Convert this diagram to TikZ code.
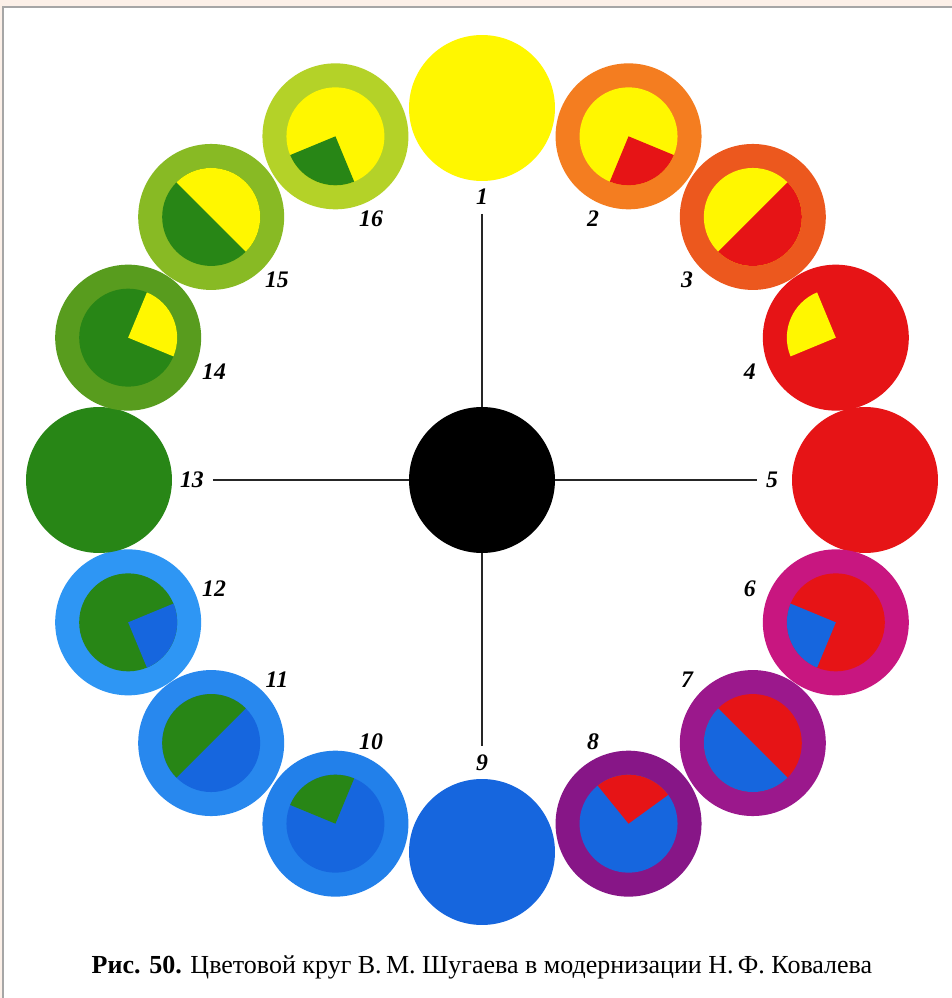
\documentclass[tikz,border=0pt]{standalone}
\usepackage{fontspec}
\setmainfont{Liberation Serif}
\usepackage{tikz}
\usetikzlibrary{positioning}
\definecolor{ylw}{RGB}{255,247,0}
\definecolor{org}{RGB}{244,125,32}
\definecolor{redorg}{RGB}{236,88,30}
\definecolor{rd}{RGB}{230,20,22}
\definecolor{mag}{RGB}{200,22,128}
\definecolor{prpA}{RGB}{155,24,140}
\definecolor{prpB}{RGB}{135,22,135}
\definecolor{blu}{RGB}{22,102,222}
\definecolor{lbluA}{RGB}{34,128,234}
\definecolor{lbluB}{RGB}{40,136,238}
\definecolor{lbluC}{RGB}{46,150,244}
\definecolor{grn}{RGB}{40,134,22}
\definecolor{grnA}{RGB}{88,156,30}
\definecolor{grnB}{RGB}{136,186,36}
\definecolor{grnC}{RGB}{180,210,40}
\definecolor{peach}{RGB}{252,240,232}
\tikzset{
  disc/.style={circle, inner sep=0pt, minimum size=2.92cm},
  core/.style={circle, inner sep=0pt, minimum size=1.96cm},
  num/.style={font=\fontsize{13.5}{15}\selectfont\bfseries\itshape, inner sep=5pt},
  axis/.style={line width=0.8pt, color=black!85}
}
\begin{document}
\begin{tikzpicture}[x=0.02cm, y=0.02cm]
\useasboundingbox (-482,-518) rectangle (470,480);
\fill[peach] (-482,-518) rectangle (470,480);
\fill[white] (-479,-518) rectangle (470,473);
\draw[gray!70, line width=0.6pt] (-479,-518) -- (-479,473) -- (470,473);

% outer discs
\node[disc, fill=ylw] (c1) at (90:383 and 372) {};
\node[disc, fill=org] (c2) at (67.5:383 and 372) {};
\node[disc, fill=redorg] (c3) at (45:383 and 372) {};
\node[disc, fill=rd] (c4) at (22.5:383 and 372) {};
\node[disc, fill=rd] (c5) at (0:383 and 372) {};
\node[disc, fill=mag] (c6) at (-22.5:383 and 372) {};
\node[disc, fill=prpA] (c7) at (-45:383 and 372) {};
\node[disc, fill=prpB] (c8) at (-67.5:383 and 372) {};
\node[disc, fill=blu] (c9) at (-90:383 and 372) {};
\node[disc, fill=lbluA] (c10) at (-112.5:383 and 372) {};
\node[disc, fill=lbluB] (c11) at (-135:383 and 372) {};
\node[disc, fill=lbluC] (c12) at (-157.5:383 and 372) {};
\node[disc, fill=grn] (c13) at (180:383 and 372) {};
\node[disc, fill=grnA] (c14) at (157.5:383 and 372) {};
\node[disc, fill=grnB] (c15) at (135:383 and 372) {};
\node[disc, fill=grnC] (c16) at (112.5:383 and 372) {};

% inner discs
\node[core, fill=ylw] (i2) at (c2) {};
\node[core, fill=ylw] (i3) at (c3) {};
\node[core, fill=rd] (i4) at (c4) {};
\node[core, fill=rd] (i6) at (c6) {};
\node[core, fill=rd] (i7) at (c7) {};
\node[core, fill=blu] (i8) at (c8) {};
\node[core, fill=blu] (i10) at (c10) {};
\node[core, fill=blu] (i11) at (c11) {};
\node[core, fill=grn] (i12) at (c12) {};
\node[core, fill=grn] (i14) at (c14) {};
\node[core, fill=grn] (i15) at (c15) {};
\node[core, fill=ylw] (i16) at (c16) {};

% sectors
\fill[rd] (i2.center) -- ++(-112.5:49) arc[start angle=-112.5, end angle=-22.5, radius=49] -- cycle;
\fill[rd] (i3.center) -- ++(-135:49) arc[start angle=-135, end angle=45, radius=49] -- cycle;
\fill[ylw] (i4.center) -- ++(112.5:49) arc[start angle=112.5, end angle=202.5, radius=49] -- cycle;
\fill[blu] (i6.center) -- ++(157.5:49) arc[start angle=157.5, end angle=247.5, radius=49] -- cycle;
\fill[blu] (i7.center) -- ++(135:49) arc[start angle=135, end angle=315, radius=49] -- cycle;
\fill[rd] (i8.center) -- ++(36:49) arc[start angle=36, end angle=129, radius=49] -- cycle;
\fill[grn] (i10.center) -- ++(67.5:49) arc[start angle=67.5, end angle=157.5, radius=49] -- cycle;
\fill[grn] (i11.center) -- ++(45:49) arc[start angle=45, end angle=225, radius=49] -- cycle;
\fill[blu] (i12.center) -- ++(-67.5:49) arc[start angle=-67.5, end angle=22.5, radius=49] -- cycle;
\fill[ylw] (i14.center) -- ++(-22.5:49) arc[start angle=-22.5, end angle=67.5, radius=49] -- cycle;
\fill[ylw] (i15.center) -- ++(-45:49) arc[start angle=-45, end angle=135, radius=49] -- cycle;
\fill[grn] (i16.center) -- ++(202.5:49) arc[start angle=202.5, end angle=292.5, radius=49] -- cycle;

% centre and numbers
\node[disc, fill=black] (hub) at (0,0) {};
\node[num] (l1) at (90:290 and 283) {1};
\node[num] (l2) at (67.5:290 and 283) {2};
\node[num] (l3) at (45:290 and 283) {3};
\node[num] (l4) at (22.5:290 and 283) {4};
\node[num] (l5) at (0:290 and 283) {5};
\node[num] (l6) at (-22.5:290 and 283) {6};
\node[num] (l7) at (-45:290 and 283) {7};
\node[num] (l8) at (-67.5:290 and 283) {8};
\node[num] (l9) at (-90:290 and 283) {9};
\node[num] (l10) at (-112.5:290 and 283) {10};
\node[num] (l11) at (-135:290 and 283) {11};
\node[num] (l12) at (-157.5:290 and 283) {12};
\node[num] (l13) at (180:290 and 283) {13};
\node[num] (l14) at (157.5:290 and 283) {14};
\node[num] (l15) at (135:290 and 283) {15};
\node[num] (l16) at (112.5:290 and 283) {16};

\draw[axis] (l1) -- (hub);
\draw[axis] (hub) -- (l5);
\draw[axis] (hub) -- (l9);
\draw[axis] (l13) -- (hub);

\node[font=\fontsize{14.8}{17}\selectfont] (caption) at (0,-487)
  {{\bfseries Рис. 50.} Цветовой круг В.\,М.~Шугаева в модернизации Н.\,Ф.~Ковалева};
\end{tikzpicture}
\end{document}
